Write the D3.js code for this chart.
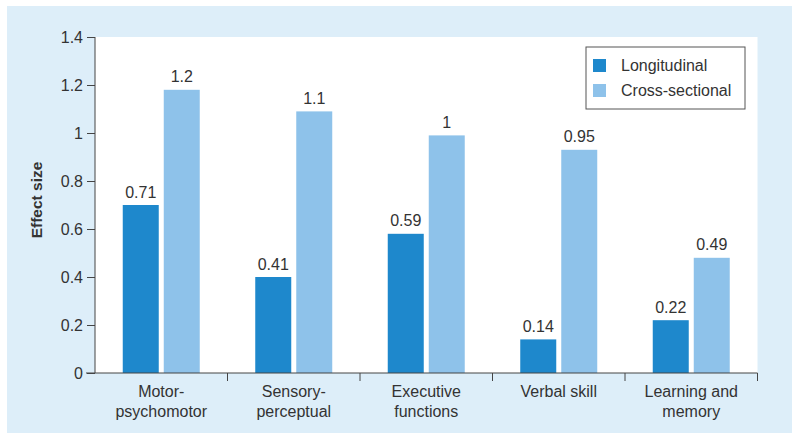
<!DOCTYPE html>
<html><head><meta charset="utf-8">
<script src="https://cdn.jsdelivr.net/npm/d3@7"></script>
<style>
body{margin:0;background:#fff;}
text{font-family:"Liberation Sans",Arial,Helvetica,sans-serif;fill:#333;}
</style></head>
<body><svg id="c" width="800" height="441"></svg>
<script>
const categories = [["Motor-","psychomotor"],["Sensory-","perceptual"],["Executive","functions"],["Verbal skill"],["Learning and","memory"]];
const seriesNames = ["Longitudinal","Cross-sectional"];
const longitudinal = [0.70,0.40,0.58,0.14,0.22];
const crossSectional = [1.18,1.09,0.99,0.93,0.48];
const longLabels = ["0.71","0.41","0.59","0.14","0.22"];
const crossLabels = ["1.2","1.1","1","0.95","0.49"];
const yTicks = [0,0.2,0.4,0.6,0.8,1,1.2,1.4];
const yTickLabels = ["0","0.2","0.4","0.6","0.8","1","1.2","1.4"];
const colors = ["#1e88cc","#8ec2ea"];

const FS = 16;
const svg = d3.select("#c");
svg.append("rect").attr("x",7).attr("y",6).attr("width",785).attr("height",427).attr("fill","#ddeef9");
const L=95,R=757.5,T=37,B=373;
svg.append("rect").attr("x",L).attr("y",T).attr("width",R-L).attr("height",B-T).attr("fill","#fff");

const x = d3.scaleBand().domain(d3.range(categories.length)).range([L,R]);
const y = d3.scaleLinear().domain([0,1.4]).range([B,T]);
const barW = 36, gap = 5;

const series = [longitudinal, crossSectional];
const labels = [longLabels, crossLabels];
series.forEach((vals,s)=>{
  const g = svg.append("g");
  g.selectAll("rect").data(vals).join("rect")
    .attr("x",(d,i)=>x(i)+x.bandwidth()/2 - barW - gap/2 + s*(barW+gap))
    .attr("y",d=>y(d)).attr("width",barW).attr("height",d=>B-y(d))
    .attr("fill",colors[s]);
  g.selectAll("text").data(vals).join("text")
    .attr("x",(d,i)=>x(i)+x.bandwidth()/2 - barW/2 - gap/2 + s*(barW+gap))
    .attr("y",d=>y(d)-7.5).attr("text-anchor","middle").attr("font-size",FS)
    .text((d,i)=>labels[s][i]);
});

// y axis
const ya = svg.append("g").attr("transform",`translate(${L},0)`)
  .call(d3.axisLeft(y).tickValues(yTicks).tickFormat((d,i)=>yTickLabels[i]).tickSize(8).tickPadding(4));
ya.select(".domain").attr("stroke","#444").attr("d",`M0,${T}V${B}`);
ya.selectAll(".tick line").attr("stroke","#444");
ya.selectAll(".tick text").attr("font-size",FS).attr("fill","#333").attr("font-family","Liberation Sans,Arial,sans-serif");

// x axis
const xa = svg.append("g").attr("transform",`translate(0,${B})`);
xa.append("line").attr("x1",L-9).attr("x2",R).attr("y1",0).attr("y2",0).attr("stroke","#444");
const bounds = d3.range(categories.length+1).map(i=> i<categories.length ? x(i) : x(i-1)+x.bandwidth());
xa.selectAll("line.t").data(bounds.slice(1)).join("line").attr("class","t")
  .attr("x1",d=>d).attr("x2",d=>d).attr("y1",0).attr("y2",8).attr("stroke","#444");
categories.forEach((c,i)=>{
  const t = xa.append("text").attr("text-anchor","middle").attr("font-size",FS)
    .attr("x",x(i)+x.bandwidth()/2);
  c.forEach((line,j)=>t.append("tspan").attr("x",x(i)+x.bandwidth()/2).attr("y",24+j*20).text(line));
});

// y title
svg.append("text").attr("transform",`translate(42,200) rotate(-90)`)
  .attr("text-anchor","middle").attr("font-size",15.5).attr("font-weight","bold").attr("fill","#222").text("Effect size");

// legend
const lg = svg.append("g");
lg.append("rect").attr("x",586).attr("y",47).attr("width",159).attr("height",62).attr("fill","#fff").attr("stroke","#555").attr("stroke-width",1);
seriesNames.forEach((n,i)=>{
  lg.append("rect").attr("x",593).attr("y",59+i*25).attr("width",13).attr("height",13).attr("fill",colors[i]);
  lg.append("text").attr("x",621).attr("y",71+i*25).attr("font-size",FS).text(n);
});
</script></body></html>
